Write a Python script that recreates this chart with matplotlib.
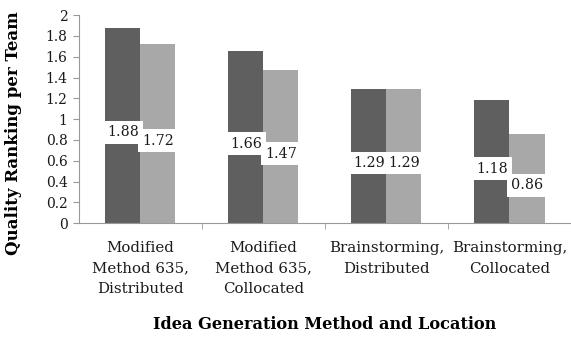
import numpy as np
import matplotlib.pyplot as plt
from matplotlib.ticker import FixedLocator, FormatStrFormatter

categories = ['Modified\nMethod 635,\nDistributed', 'Modified\nMethod 635,\nCollocated',
              'Brainstorming,\nDistributed', 'Brainstorming,\nCollocated']
series_a = [1.88, 1.66, 1.29, 1.18]
series_b = [1.72, 1.47, 1.29, 0.86]
yticks = [0, 0.2, 0.4, 0.6, 0.8, 1, 1.2, 1.4, 1.6, 1.8, 2]

plt.rcParams['font.family'] = ['DejaVu Serif']

fig = plt.figure(figsize=(5.71, 3.38), dpi=100)
ax = fig.add_axes([0.138, 0.34, 0.862, 0.615])

x = np.arange(len(categories))
w = 0.285
bars_a = ax.bar(x - w / 2, series_a, w, color='#5f5f5f')
bars_b = ax.bar(x + w / 2, series_b, w, color='#a8a8a8')

# value labels sit about halfway up each bar on a white box
for bars, vals in ((bars_a, series_a), (bars_b, series_b)):
    for b, v in zip(bars, vals):
        ax.annotate('%.2f' % v, (b.get_x() + b.get_width() / 2, v / 2),
                    xytext=(0, -5), textcoords='offset points',
                    ha='center', va='center', fontsize=10.3, color='#1a1a1a',
                    bbox=dict(boxstyle='square,pad=0.3', fc='white', ec='none'))

ax.set_xlim(-0.5, len(categories) - 0.5)
ax.set_ylim(0, 2)
ax.yaxis.set_major_locator(FixedLocator(yticks))
ax.yaxis.set_major_formatter(FormatStrFormatter('%g'))
ax.set_xticks(x)
ax.set_xticklabels(categories, fontsize=10.8, linespacing=1.6, color='#1a1a1a')
ax.xaxis.set_minor_locator(FixedLocator(x[:-1] + 0.5))
ax.tick_params(axis='x', which='major', length=0, pad=13)
ax.tick_params(axis='x', which='minor', length=4, color='#999999', direction='out')
ax.tick_params(axis='y', length=4, color='#999999', labelsize=10, labelcolor='#1a1a1a', pad=4)

for s in ('top', 'right'):
    ax.spines[s].set_visible(False)
for s in ('left', 'bottom'):
    ax.spines[s].set_color('#999999')

ax.set_ylabel('Quality Ranking per Team', fontsize=12, fontweight='bold')
ax.yaxis.set_label_coords(-0.116, 0.433)
ax.set_xlabel('Idea Generation Method and Location', fontsize=11.6, fontweight='bold', labelpad=14)

fig.savefig('out.png', dpi=100)
